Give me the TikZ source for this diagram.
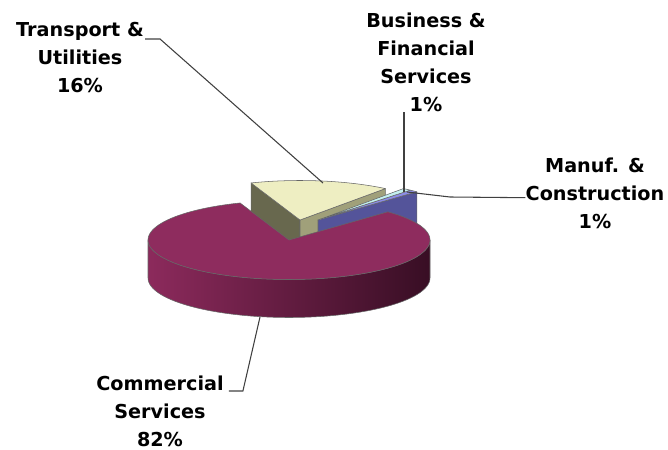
\documentclass[tikz,border=0pt]{standalone}
\usepackage{fontspec}
\setmainfont{DejaVu Sans}
\usepackage{tikz}

\definecolor{comtop}{RGB}{142,44,94}
\definecolor{comlit}{RGB}{140,42,92}
\definecolor{comdark}{RGB}{56,14,36}
\definecolor{trtop}{RGB}{238,238,194}
\definecolor{trleft}{RGB}{104,104,78}
\definecolor{trright}{RGB}{160,160,122}
\definecolor{mancut}{RGB}{84,84,154}
\definecolor{mantop}{RGB}{140,140,230}
\definecolor{bustop}{RGB}{196,240,240}

\tikzset{
  lbl/.style={font=\fontsize{14.4}{21}\selectfont\bfseries, align=center, anchor=north, inner sep=0pt},
  leader/.style={draw=black!75, line width=0.8pt},
  edge/.style={draw=black!60, line width=0.4pt, line join=round},
}

\begin{document}
\begin{tikzpicture}[x=0.75pt, y=-0.75pt]
\useasboundingbox (0,0) rectangle (668,450);
\def\rx{141}
\def\ry{39.5}
\def\dep{38}

% transport & utilities, pulled out
\filldraw[fill=trleft, edge] (300,220) -- ({300+\rx*cos(110.3)}, {220-\ry*sin(110.3)}) -- ++(0,\dep) -- (300,258) -- cycle;
\filldraw[fill=trright, edge] (300,220) -- ({300+\rx*cos(52.7)}, {220-\ry*sin(52.7)}) -- ++(0,\dep) -- (300,258) -- cycle;
\filldraw[fill=trtop, edge] (300,220) -- plot[domain=52.7:110.3, samples=40] ({300+\rx*cos(\x)}, {220-\ry*sin(\x)}) -- cycle;

% manuf. and business slices
\filldraw[fill=mancut, edge] (318,220) -- ({318+\rx*cos(45.5)}, {220-\ry*sin(45.5)}) -- ++(0,\dep) -- (318,258) -- cycle;
\filldraw[fill=mantop, edge] (318,220) -- plot[domain=45.5:49.1, samples=5] ({318+\rx*cos(\x)}, {220-\ry*sin(\x)}) -- cycle;
\filldraw[fill=bustop, edge] (318,220) -- plot[domain=49.1:52.7, samples=5] ({318+\rx*cos(\x)}, {220-\ry*sin(\x)}) -- cycle;

% commercial services
\shade[left color=comlit, right color=comdark, edge] plot[domain=180:360, samples=60] ({289+\rx*cos(\x)}, {240-\ry*sin(\x)}) -- plot[domain=360:180, samples=60] ({289+\rx*cos(\x)}, {240+\dep-\ry*sin(\x)}) -- cycle;
\filldraw[fill=comtop, edge] (289,240) -- plot[domain=110.3:405.5, samples=150] ({289+\rx*cos(\x)}, {240-\ry*sin(\x)}) -- cycle;

\coordinate (tr-end) at (323,183);
\coordinate (bus-end) at (404,192);
\coordinate (man-end) at (407,192);
\coordinate (com-end) at (260,317);

\node[lbl] (trans) at (80,22) {Transport \&\\Utilities\\16\%};
\node[lbl] (bus) at (426,13) {Business \&\\Financial\\Services\\1\%};
\node[lbl] (man) at (595,158) {Manuf. \&\\Construction\\1\%};
\node[lbl] (com) at (160,376) {Commercial\\Services\\82\%};

\draw[leader] (trans.north east) ++(1,17) -- ++(15,0) -- (tr-end);
\draw[leader] (bus.south -| bus-end) -- (bus-end);
\draw[leader] (man-end) -- (450,197) -- ([yshift=-3pt]man.west);
\draw[leader] (com.north east) ++(5,15) -- ++(14,0) -- (com-end);

\end{tikzpicture}
\end{document}
